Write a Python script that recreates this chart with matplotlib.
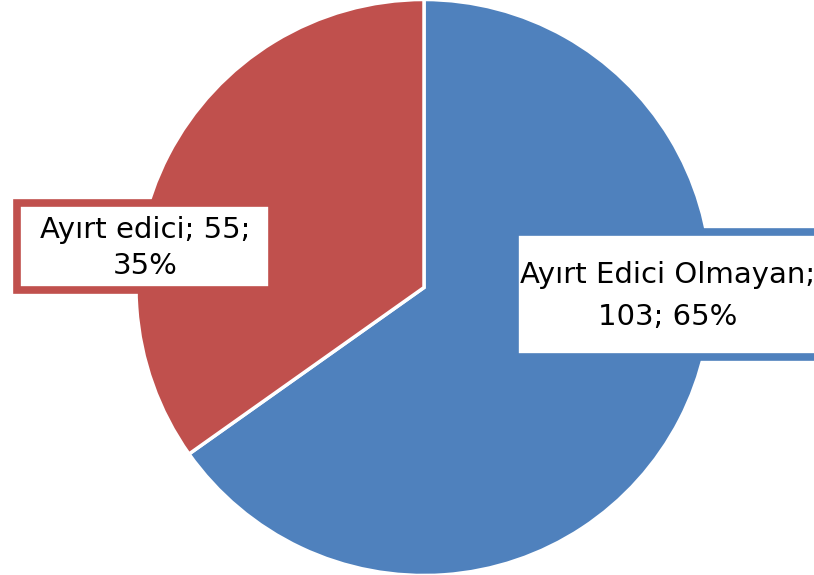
import matplotlib
matplotlib.use("Agg")
import matplotlib.pyplot as plt
from matplotlib.patches import Rectangle

categories = ["Ayırt Edici Olmayan", "Ayırt edici"]
values = [103, 55]
percents = ["65%", "35%"]
colors = ["#4F81BD", "#C0504D"]

W, H = 814, 575
fig = plt.figure(figsize=(W / 100, H / 100), dpi=100)
fig.patch.set_facecolor("white")

cx, cy, r = 424, 287.5, 288
ax = fig.add_axes([(cx - r) / W, (H - cy - r) / H, 2 * r / W, 2 * r / H])
ax.pie(values, colors=colors, startangle=90, counterclock=False,
       wedgeprops=dict(edgecolor="white", linewidth=2.5), radius=1)
ax.set_xlim(-1, 1)
ax.set_ylim(-1, 1)
ax.set_aspect("auto")
ax.axis("off")

font = ["DejaVu Sans"]

def label_box(x0, y0, x1, y1, color, lines, tx, ty, ls):
    # outer border rectangle (pixel coords from top-left)
    fig.add_artist(Rectangle((x0 / W, 1 - y1 / H), (x1 - x0) / W, (y1 - y0) / H,
                             transform=fig.transFigure, facecolor="white",
                             edgecolor=color, linewidth=5.5, zorder=5))
    fig.text(tx / W, 1 - ty / H, lines, ha="center", va="center",
             fontsize=21, family=font, color="black", zorder=6,
             linespacing=ls)

label_box(17, 203, 272, 290, colors[1],
          f"{categories[1]}; {values[1]};\n{percents[1]}", 145, 248, 1.4)
label_box(515, 232, 822, 357, colors[0],
          f"{categories[0]};\n{values[0]}; {percents[0]}", 668, 296, 1.6)

fig.savefig("out.png", dpi=100, facecolor="white")
